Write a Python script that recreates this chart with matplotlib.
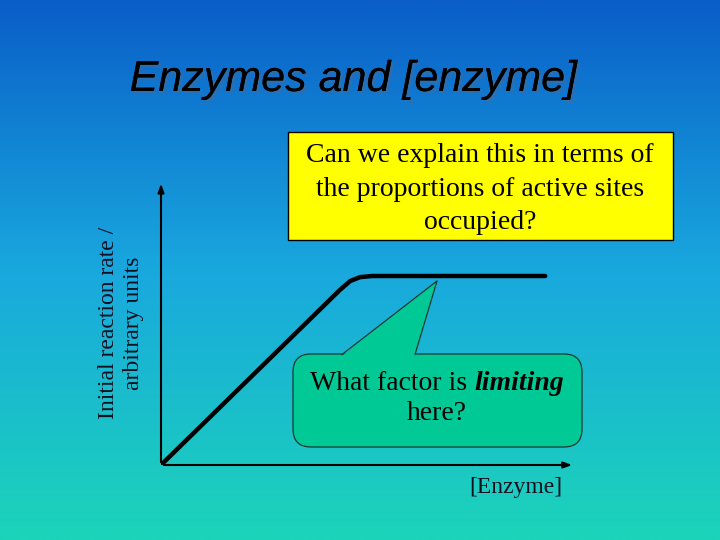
import numpy as np
import matplotlib
matplotlib.use("Agg")
import matplotlib.pyplot as plt
from matplotlib.colors import LinearSegmentedColormap
from matplotlib.patches import FancyBboxPatch, Rectangle, Polygon
import matplotlib.patheffects as pe

# ---- Data: initial rate vs [enzyme] (arbitrary units) ----
enzyme = [0.0, 4.32, 4.57, 4.81, 5.10, 9.28]
rate = [0.0, 6.25, 6.57, 6.71, 6.75, 6.75]

title = "Enzymes and [enzyme]"
ylabel = "Initial reaction rate /\narbitrary units"
xlabel = "[Enzyme]"
question = "Can we explain this in terms of\nthe proportions of active sites\noccupied?"

SERIF = "Liberation Serif"
SANS = "Liberation Sans"
W, H = 720, 540

fig = plt.figure(figsize=(7.2, 5.4), dpi=100)

# ---- gradient background ----
bg = fig.add_axes([0, 0, 1, 1])
cmap = LinearSegmentedColormap.from_list(
    "bg", [(0.0, "#0a5ec8"), (0.5, "#19a8de"), (1.0, "#1cd4b9")])
bg.imshow(np.linspace(0, 1, 256).reshape(-1, 1), cmap=cmap, aspect="auto",
          extent=[0, 1, 0, 1], origin="upper")
bg.set_axis_off()

# ---- graph axes (origin at pixel 161,465) ----
ax = fig.add_axes([161 / W, (H - 465) / H, 414 / W, 280 / H])
ax.set_xlim(0, 10)
ax.set_ylim(0, 10)
ax.patch.set_alpha(0)
for s in ax.spines.values():
    s.set_visible(False)
ax.set_xticks([])
ax.set_yticks([])
ax.plot(enzyme, rate, color="black", lw=3.2, solid_capstyle="round",
        solid_joinstyle="round", zorder=3)
arr = dict(arrowstyle="-|>,head_length=0.5,head_width=0.18", color="black", lw=1.5)
ax.annotate("", xy=(0, 1.015), xytext=(0, 0), xycoords="axes fraction", arrowprops=arr)
ax.annotate("", xy=(1.0, 0), xytext=(0, 0), xycoords="axes fraction", arrowprops=arr)

# ---- overlay in pixel coordinates for text and callouts ----
ov = fig.add_axes([0, 0, 1, 1])
ov.set_xlim(0, W)
ov.set_ylim(H, 0)
ov.patch.set_alpha(0)
ov.set_axis_off()

ov.text(353, 80, title, family=SANS, style="italic", fontsize=31,
        ha="center", va="center", color="black",
        path_effects=[pe.withSimplePatchShadow(offset=(2, -2),
                                               shadow_rgbFace="#4a6a90", alpha=0.45),
                      pe.Normal()])

ov.text(121, 323, ylabel, family=SERIF, fontsize=17, rotation=90,
        ha="center", va="center", linespacing=1.25, color="#101020")
ov.text(516, 488, xlabel, family=SERIF, fontsize=17, ha="center", va="center",
        color="#101020")

# yellow question box
ov.add_patch(Rectangle((288, 132), 385, 108, facecolor="#ffff00",
                       edgecolor="black", lw=1.0))
ov.text(480, 189, question, family=SERIF, fontsize=20, ha="center",
        va="center", linespacing=1.45)

# green callout
green = "#00c996"
ov.add_patch(FancyBboxPatch((293, 354), 289, 93,
                            boxstyle="round,pad=0,rounding_size=18",
                            facecolor=green, edgecolor="#1a3a30", lw=0.9))
ov.add_patch(Polygon([(342, 356), (437, 281), (415, 356)], closed=True,
                     facecolor=green, edgecolor="none", zorder=3))
ov.plot([342, 437, 415], [354.5, 281, 354.5], color="#1a3a30", lw=0.9, zorder=4)
t1 = ov.text(310, 390, "What factor is ", family=SERIF, fontsize=20,
             ha="left", va="baseline")
ov.annotate("limiting", xy=(1, 0), xycoords=t1, family=SERIF, fontsize=20,
            style="italic", weight="bold", ha="left", va="bottom")
ov.text(437, 414, "here?", family=SERIF, fontsize=20, ha="center", va="center")

fig.savefig("out.png", dpi=100)
